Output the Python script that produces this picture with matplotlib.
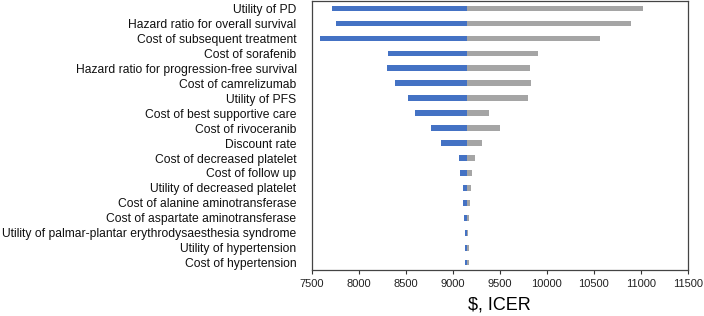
import matplotlib.pyplot as plt
import numpy as np

plt.rcParams['font.family'] = ['Liberation Sans', 'DejaVu Sans']

base = 9150

params = ["Utility of PD",
          "Hazard ratio for overall survival",
          "Cost of subsequent treatment",
          "Cost of sorafenib",
          "Hazard ratio for progression-free survival",
          "Cost of camrelizumab",
          "Utility of PFS",
          "Cost of best supportive care",
          "Cost of rivoceranib",
          "Discount rate",
          "Cost of decreased platelet",
          "Cost of follow up",
          "Utility of decreased platelet",
          "Cost of alanine aminotransferase",
          "Cost of aspartate aminotransferase",
          "Utility of palmar-plantar erythrodysaesthesia syndrome",
          "Utility of hypertension",
          "Cost of hypertension"]

low = [7716, 7752, 7585, 8313, 8302, 8388, 8522, 8597, 8764, 8877,
       9066, 9080, 9108, 9108, 9119, 9130, 9130, 9126]
high = [11021, 10894, 10567, 9911, 9822, 9829, 9804, 9389, 9502, 9311,
        9232, 9208, 9190, 9187, 9175, 9165, 9168, 9172]

fig = plt.figure(figsize=(7.04, 3.16), dpi=100)
ax = fig.add_axes([0.443, 0.145, 0.534, 0.852])

y = np.arange(len(params))
h = 0.37
ax.barh(y, np.array(low) - base, left=base, height=h, color='#4472C4')
ax.barh(y, np.array(high) - base, left=base, height=h, color='#A5A5A5')

ax.set_ylim(len(params) - 0.5, -0.5)
ax.set_yticks(y)
ax.set_yticklabels(params, fontsize=8.7, color='#111111')
ax.tick_params(axis='y', length=0, pad=11)

ax.set_xlim(7500, 11500)
ax.set_xticks(np.arange(7500, 11501, 500))
ax.tick_params(axis='x', labelsize=8, length=3, width=0.8, colors='#333333', labelcolor='#222222')
ax.set_xlabel('$, ICER', fontsize=13, labelpad=5)

for s in ax.spines.values():
    s.set_color('#444444')
    s.set_linewidth(0.9)

plt.savefig('out.png', dpi=100)
